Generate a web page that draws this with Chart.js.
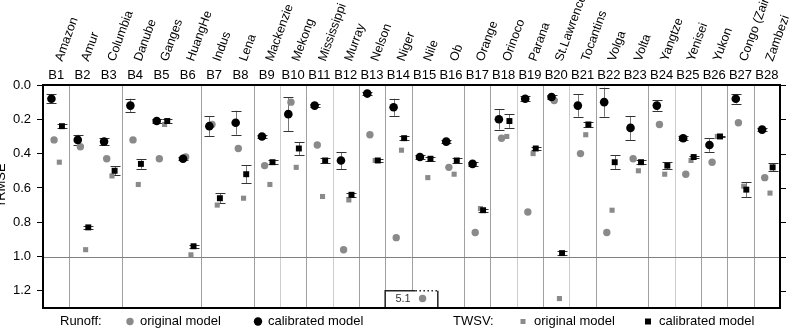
<!DOCTYPE html>
<html>
<head>
<meta charset="utf-8">
<script src="https://cdn.jsdelivr.net/npm/chart.js@4.4.1/dist/chart.umd.min.js"></script>
<style>
  html, body { margin: 0; padding: 0; background: #fff; }
</style>
</head>
<body>
<canvas id="c" width="805" height="332"></canvas>
<script>
// ---- data ----
const basinCodes = ['B1', 'B2', 'B3', 'B4', 'B5', 'B6', 'B7', 'B8', 'B9', 'B10', 'B11', 'B12', 'B13', 'B14',
  'B15', 'B16', 'B17', 'B18', 'B19', 'B20', 'B21', 'B22', 'B23', 'B24', 'B25', 'B26', 'B27', 'B28'];
const basinNames = ['Amazon', 'Amur', 'Columbia', 'Danube', 'Ganges', 'HuangHe', 'Indus', 'Lena', 'Mackenzie',
  'Mekong', 'Mississippi', 'Murray', 'Nelson', 'Niger', 'Nile', 'Ob', 'Orange', 'Orinoco', 'Parana',
  'St.Lawrence', 'Tocantins', 'Volga', 'Volta', 'Yangtze', 'Yenisei', 'Yukon', 'Congo (Zaire)', 'Zambezi'];

const runoffOrig = [0.32, 0.36, 0.43, 0.32, 0.43, 0.42, 0.23, 0.37, 0.47, 0.10, 0.35, 0.96, 0.29, 0.89,
  5.1, 0.48, 0.86, 0.31, 0.74, 0.09, 0.40, 0.86, 0.43, 0.23, 0.52, 0.45, 0.22, 0.54];
const runoffCal = [0.08, 0.32, 0.33, 0.12, 0.21, 0.43, 0.24, 0.22, 0.30, 0.17, 0.12, 0.44, 0.05, 0.13,
  0.42, 0.33, 0.46, 0.20, 0.08, 0.07, 0.12, 0.10, 0.25, 0.12, 0.31, 0.35, 0.08, 0.26];
const runoffCalErr = [0.025, 0.03, 0.02, 0.04, 0.01, 0.01, 0.057, 0.07, 0.01, 0.1, 0.01, 0.05, 0.01, 0.05,
  0.01, 0.01, 0.01, 0.06, 0.015, 0.01, 0.065, 0.085, 0.07, 0.03, 0.01, 0.04, 0.028, 0.01];

const twsvOrig = [0.45, 0.96, 0.53, 0.58, 0.23, 0.99, 0.70, 0.66, 0.58, 0.48, 0.65, 0.67, 0.44, 0.38,
  0.54, 0.52, 0.72, 0.30, 0.40, 1.27, 0.29, 0.73, 0.50, 0.52, 0.44, 0.30, 0.59, 0.63];
const twsvCal = [0.24, 0.83, 0.50, 0.46, 0.21, 0.94, 0.66, 0.52, 0.45, 0.37, 0.44, 0.64, 0.44, 0.31,
  0.43, 0.44, 0.73, 0.21, 0.37, 0.98, 0.23, 0.45, 0.45, 0.47, 0.42, 0.30, 0.61, 0.48];
const twsvCalErr = [0.01, 0.01, 0.026, 0.028, 0.01, 0.01, 0.03, 0.053, 0.01, 0.038, 0.013, 0.01, 0.01, 0.01,
  0.012, 0.013, 0.01, 0.04, 0.01, 0.01, 0.013, 0.04, 0.01, 0.02, 0.005, 0.005, 0.045, 0.023];

const yTicks = [0.0, 0.2, 0.4, 0.6, 0.8, 1.0, 1.2];
// basin boundaries (after basin n) that carry a separator line
const separatorsDark = [1, 3, 6, 8, 10, 12, 13, 14, 16, 17, 19, 21, 23, 25, 26, 27];
const separatorsLight = [9, 11, 18, 20, 24];
const axisBreak = 1.245; // off-scale values (Nile original: 5.1) are shown in the break box

const FONT = '"Liberation Sans", Arial, Helvetica, sans-serif';
const GRAY = '#8a8a8a';

// small horizontal shift of the four markers inside each basin column
function points(values, shift) {
  return values.map((v, i) => ({ x: i + 1 + shift, y: Math.min(v, axisBreak), raw: v }));
}

const decor = {
  id: 'decor',
  beforeDatasetsDraw(chart) {
    const { ctx, chartArea: a, scales: { x, y } } = chart;
    ctx.save();
    ctx.lineWidth = 1;
    const sep = (list, color) => {
      ctx.strokeStyle = color;
      list.forEach((n) => {
        const px = Math.round(x.getPixelForValue(n + 0.5)) + 0.5;
        ctx.beginPath();
        ctx.moveTo(px, a.top);
        ctx.lineTo(px, a.bottom);
        ctx.stroke();
      });
    };
    sep(separatorsDark, '#a0a0a0');
    sep(separatorsLight, '#cdcdcd');

    // rRMSE = 1 reference line
    const y1 = Math.round(y.getPixelForValue(1.0)) + 0.5;
    ctx.strokeStyle = '#808080';
    ctx.beginPath();
    ctx.moveTo(a.left, y1);
    ctx.lineTo(a.right, y1);
    ctx.stroke();

    // axis-break box for the Nile value
    const bl = x.getPixelForValue(13.5), br = x.getPixelForValue(15.5);
    const bt = y.getPixelForValue(1.2), bm = x.getPixelForValue(14.65);
    ctx.fillStyle = '#fff';
    ctx.fillRect(bl, bt, br - bl, a.bottom - bt);
    ctx.strokeStyle = '#222';
    ctx.lineWidth = 1.5;
    ctx.beginPath();
    ctx.moveTo(bl, a.bottom); ctx.lineTo(bl, bt); ctx.lineTo(bm, bt);
    ctx.moveTo(br, a.bottom); ctx.lineTo(br, bt);
    ctx.stroke();
    ctx.setLineDash([1.5, 2.5]);
    ctx.beginPath();
    ctx.moveTo(bm, bt); ctx.lineTo(br, bt);
    ctx.stroke();
    ctx.setLineDash([]);
    ctx.fillStyle = '#333';
    ctx.font = '11px ' + FONT;
    ctx.textAlign = 'center';
    ctx.textBaseline = 'middle';
    ctx.fillText(String(runoffOrig[14]), x.getPixelForValue(14.18), y.getPixelForValue(axisBreak));

    // error bars of the calibrated runs
    chart.data.datasets.forEach((ds) => {
      if (!ds.errors) return;
      ds.data.forEach((p, i) => {
        const e = ds.errors[i];
        const px = Math.round(x.getPixelForValue(p.x)) + 0.5;
        const top = y.getPixelForValue(p.y - e), bot = y.getPixelForValue(p.y + e);
        ctx.lineWidth = 1;
        ctx.strokeStyle = '#777';
        ctx.beginPath();
        ctx.moveTo(px, top); ctx.lineTo(px, bot);
        ctx.stroke();
        ctx.strokeStyle = '#333';
        ctx.beginPath();
        ctx.moveTo(px - 5, Math.round(top) + 0.5); ctx.lineTo(px + 5, Math.round(top) + 0.5);
        ctx.moveTo(px - 5, Math.round(bot) + 0.5); ctx.lineTo(px + 5, Math.round(bot) + 0.5);
        ctx.stroke();
      });
    });
    ctx.restore();
  },
  afterDraw(chart) {
    const { ctx, chartArea: a, scales: { x, y } } = chart;
    ctx.save();
    // frame + outward ticks on the right
    ctx.strokeStyle = '#000';
    ctx.lineWidth = 2;
    ctx.strokeRect(a.left, a.top, a.right - a.left, a.bottom - a.top);
    ctx.lineWidth = 1;
    yTicks.forEach((v) => {
      const py = Math.round(y.getPixelForValue(v)) + 0.5;
      ctx.beginPath();
      ctx.moveTo(a.right, py);
      ctx.lineTo(a.right + 6, py);
      ctx.stroke();
    });

    // basin names, slanted
    ctx.fillStyle = '#000';
    ctx.font = '12.5px ' + FONT;
    ctx.textAlign = 'left';
    ctx.textBaseline = 'alphabetic';
    basinNames.forEach((name, i) => {
      ctx.save();
      ctx.translate(x.getPixelForValue(i + 1) + 6, 62);
      ctx.rotate(-70 * Math.PI / 180);
      ctx.fillText(name, 0, 0);
      ctx.restore();
    });

    // y title
    ctx.save();
    ctx.font = '13px ' + FONT;
    ctx.textAlign = 'center';
    ctx.translate(5, a.top + 0.445 * (a.bottom - a.top));
    ctx.rotate(-Math.PI / 2);
    ctx.fillText('rRMSE', 0, 0);
    ctx.restore();

    // legend row
    const ly = 321.5;
    ctx.font = '13px ' + FONT;
    ctx.textBaseline = 'middle';
    ctx.textAlign = 'left';
    ctx.fillStyle = '#000';
    ctx.fillText('Runoff:', 60, ly);
    ctx.fillText('original model', 140, ly);
    ctx.fillText('calibrated model', 268, ly);
    ctx.fillText('TWSV:', 453, ly);
    ctx.fillText('original model', 534, ly);
    ctx.fillText('calibrated model', 659, ly);
    ctx.fillStyle = GRAY;
    ctx.beginPath(); ctx.arc(130, ly, 3.7, 0, Math.PI * 2); ctx.fill();
    ctx.fillRect(520.5, ly - 2.5, 5, 5);
    ctx.fillStyle = '#000';
    ctx.beginPath(); ctx.arc(258, ly, 4.2, 0, Math.PI * 2); ctx.fill();
    ctx.fillRect(645, ly - 3, 6, 6);
    ctx.restore();
  }
};

new Chart(document.getElementById('c'), {
  type: 'scatter',
  data: {
    datasets: [
      { label: 'Runoff calibrated', data: points(runoffCal, -0.18), errors: runoffCalErr,
        pointStyle: 'circle', pointRadius: 4.3, backgroundColor: '#000', borderWidth: 0, order: 0 },
      { label: 'TWSV calibrated', data: points(twsvCal, 0.22), errors: twsvCalErr,
        pointStyle: 'rect', pointRadius: 4.2, backgroundColor: '#000', borderWidth: 0, order: 1 },
      { label: 'Runoff original', data: points(runoffOrig, -0.08),
        pointStyle: 'circle', pointRadius: 3.7, backgroundColor: GRAY, borderWidth: 0, order: 2 },
      { label: 'TWSV original', data: points(twsvOrig, 0.12),
        pointStyle: 'rect', pointRadius: 3.6, backgroundColor: GRAY, borderWidth: 0, order: 3 },
    ],
  },
  options: {
    responsive: false,
    animation: false,
    layout: { padding: { left: 0, top: 0, right: 25, bottom: 24 } },
    plugins: { legend: { display: false }, tooltip: { enabled: false } },
    scales: {
      x: {
        type: 'linear',
        position: 'top',
        min: 0.5,
        max: 28.5,
        afterBuildTicks: (s) => { s.ticks = basinCodes.map((_, i) => ({ value: i + 1 })); },
        afterFit: (s) => { s.height = 85; },
        ticks: {
          callback: (v) => basinCodes[v - 1],
          font: { family: FONT, size: 13 },
          color: '#000',
          padding: 2,
          maxRotation: 0,
          autoSkip: false,
        },
        grid: { display: false, drawTicks: false },
        border: { display: false },
      },
      y: {
        reverse: true,
        min: 0,
        max: 1.3,
        afterBuildTicks: (s) => { s.ticks = yTicks.map((v) => ({ value: v })); },
        afterFit: (s) => { s.width = 43; },
        ticks: {
          callback: (v) => v.toFixed(1),
          font: { family: FONT, size: 13 },
          color: '#000',
          padding: 6,
        },
        grid: { drawOnChartArea: false, tickLength: 6, tickColor: '#000' },
        border: { display: false },
      },
    },
  },
  plugins: [decor],
});
</script>
</body>
</html>
